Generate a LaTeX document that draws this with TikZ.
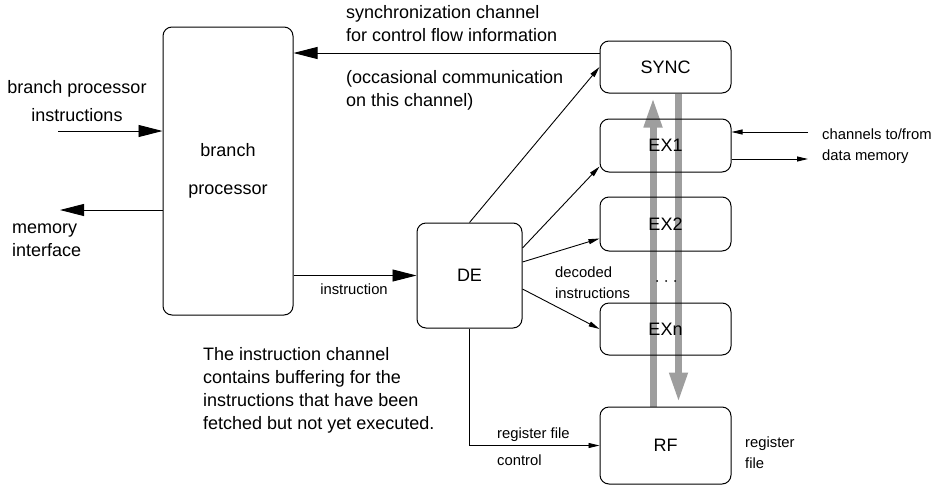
\documentclass[tikz,border=0pt]{standalone}
\usepackage{fontspec}
\setmainfont{Liberation Sans}
\usetikzlibrary{arrows.meta}
\pgfdeclarelayer{buslayer}
\pgfsetlayers{buslayer,main}
\begin{document}
\begin{tikzpicture}[x=1pt,y=-1pt,
  unit/.style={draw, line width=1pt, rounded corners=9pt, inner sep=0pt,
    font=\fontsize{18}{23}\selectfont},
  lbl/.style={font=\fontsize{18}{23}\selectfont, inner sep=0pt, align=left},
  sml/.style={font=\fontsize{14.8}{21}\selectfont, inner sep=0pt, align=left},
  wire/.style={line width=0.9pt},
  bigtip/.style={-{Triangle[length=24pt,width=12pt]}},
  smalltip/.style={-{Triangle[length=11pt,width=5pt]}},
  bus/.style={line width=7pt, draw=black!38, -{Triangle[length=30pt,width=17pt]}}]
\useasboundingbox (0,0) rectangle (934,485);

% processing units
\node[unit, minimum width=130pt, minimum height=288pt, align=center,
      font=\fontsize{18}{38}\selectfont] (bp) at (228,171) {branch\\processor};
\node[unit, minimum width=105pt, minimum height=105pt] (de) at (469.5,275.5) {DE};
\node[unit, minimum width=131pt, minimum height=52pt] (sync) at (665.5,67) {SYNC};
\node[unit, minimum width=131pt, minimum height=53pt] (ex1) at (665.5,145.5) {EX1};
\node[unit, minimum width=131pt, minimum height=54pt] (ex2) at (665.5,224) {EX2};
\node[unit, minimum width=131pt, minimum height=52pt] (exn) at (665.5,329) {EXn};
\node[unit, minimum width=131pt, minimum height=77pt] (rf) at (665.5,445.5) {RF};

% elided execution units
\foreach \dx in {657,666,675} \fill (\dx,281) circle (1pt);

% free ends of the outside channels
\coordinate (bpin) at (58,131);
\coordinate (memout) at (60,210);
\coordinate (chin) at (808,132);
\coordinate (chout) at (808,159);

% channels
\draw[wire,bigtip] ([yshift=14pt]sync.west) coordinate (s1) -- (s1 -| bp.east);
\draw[wire,bigtip] (bpin) -- (bpin -| bp.west);
\draw[wire,bigtip] (memout -| bp.west) -- (memout);
\draw[wire,bigtip] (bp.east |- de.west) -- (de.west);
\draw[wire,smalltip] (de.north) -- (sync.west);
\draw[wire,smalltip] ([yshift=27.5pt]de.east) -- ([yshift=6pt]ex1.south west);
\draw[wire,smalltip] ([yshift=13.5pt]de.east) -- ([yshift=13pt]ex2.south west);
\draw[wire,smalltip] ([yshift=-13.5pt]de.east) -- (exn.west);
\draw[wire,smalltip] (de.south) |- (rf.west);
\draw[wire,smalltip] (chin) -- (chin -| ex1.east);
\draw[wire,smalltip] (chout -| ex1.east) -- (chout);

% register file buses, behind the unit labels
\begin{pgfonlayer}{buslayer}
\draw[bus] ([xshift=-12.5pt]rf.north) -- ([xshift=-12.5pt,yshift=-4pt]sync.south);
\draw[bus] ([xshift=13pt]sync.south) -- ([xshift=13pt,yshift=4pt]rf.north);
\end{pgfonlayer}

% labels
\node[lbl, anchor=west] (tsync) at (346,23.5) {synchronization channel\\for control flow information};
\node[lbl, anchor=west] (tocc) at (346,90.5) {(occasional communication\\on this channel)};
\node[lbl, align=center] (tbpi) at (77,101) {branch processor\\[5pt]instructions};
\node[lbl, anchor=west] (tmem) at (12,240) {memory\\interface};
\node[sml] (tinstr) at (354,289) {instruction};
\node[sml, anchor=west] (tdec) at (555,283) {decoded\\instructions};
\node[sml, anchor=west] (trfc) at (497,435) {register file};
\node[sml, anchor=west] (tctl) at (497,460) {control};
\node[sml, anchor=west] (tch) at (822,146) {channels to/from\\data memory};
\node[sml, anchor=west] (trf) at (745,452.5) {register\\file};
\node[lbl, anchor=west] (tbuf) at (203,390) {The instruction channel\\contains buffering for the\\instructions that have been\\fetched but not yet executed.};
\end{tikzpicture}
\end{document}
